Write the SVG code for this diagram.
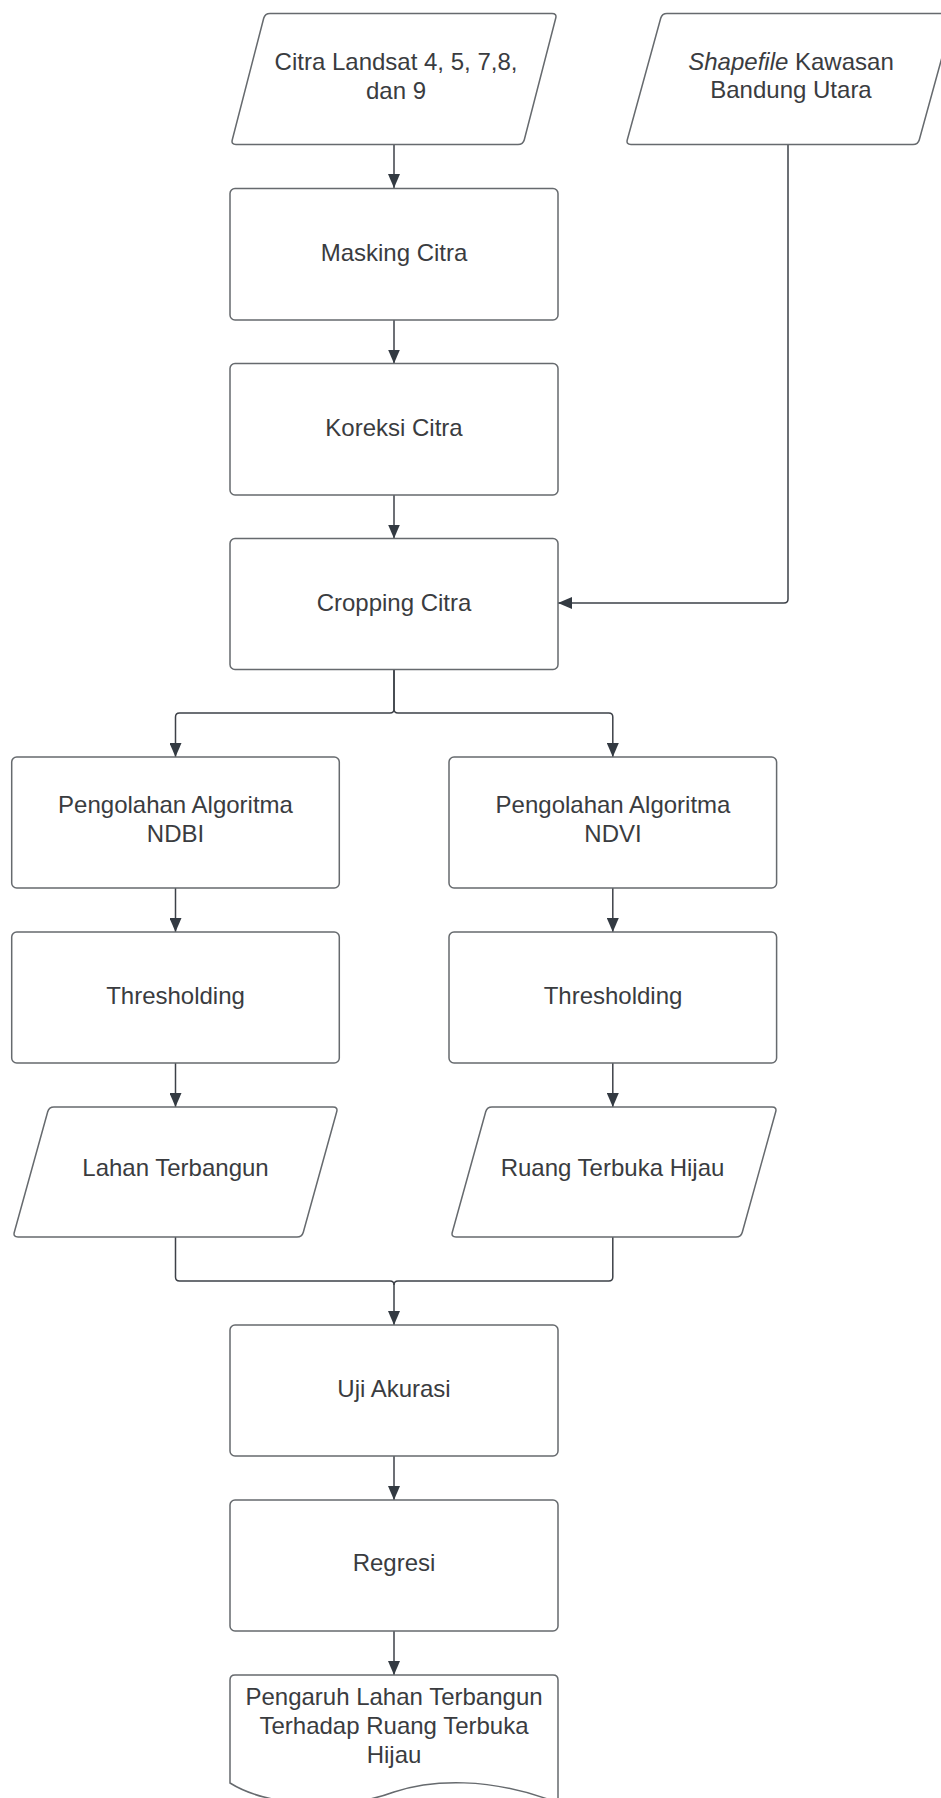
<svg xmlns="http://www.w3.org/2000/svg" width="941" height="1798" viewBox="0 0 941 1798">
<defs>
<style>
.shape{fill:#ffffff;stroke:#666a6e;stroke-width:1.5}
.lbl{font-family:"Liberation Sans",Arial,sans-serif;font-size:24px;fill:#3a3c3f;text-anchor:middle}
.conn{fill:none;stroke:#3d4148;stroke-width:1.5}
</style>
<marker id="ah" viewBox="0 0 14 12" refX="14" refY="6" markerWidth="14" markerHeight="12" markerUnits="userSpaceOnUse" orient="auto">
<path d="M0,0 L14,6 L0,12 Z" fill="#333a42"/>
</marker>
</defs>
<rect width="941" height="1798" fill="#ffffff"/>

<g id="connectors">
<path class="conn" d="M394,145 V188" marker-end="url(#ah)"/>
<path class="conn" d="M394,320 V363.5" marker-end="url(#ah)"/>
<path class="conn" d="M394,495 V538.5" marker-end="url(#ah)"/>
<path class="conn" d="M788,145 V599 Q788,603 784,603 H558" marker-end="url(#ah)"/>
<path class="conn" d="M394,669.5 V709 Q394,713 390,713 H179.5 Q175.5,713 175.5,717 V757" marker-end="url(#ah)"/>
<path class="conn" d="M394,669.5 V709 Q394,713 398,713 H608.8 Q612.8,713 612.8,717 V757" marker-end="url(#ah)"/>
<path class="conn" d="M175.5,888 V932" marker-end="url(#ah)"/>
<path class="conn" d="M612.8,888 V932" marker-end="url(#ah)"/>
<path class="conn" d="M175.5,1063 V1107" marker-end="url(#ah)"/>
<path class="conn" d="M612.8,1063 V1107" marker-end="url(#ah)"/>
<path class="conn" d="M175.5,1237 V1277 Q175.5,1281 179.5,1281 H390 Q394,1281 394,1285 V1325" marker-end="url(#ah)"/>
<path class="conn" d="M612.8,1237 V1277 Q612.8,1281 608.8,1281 H398 Q394,1281 394,1285"/>
<path class="conn" d="M394,1456 V1500" marker-end="url(#ah)"/>
<path class="conn" d="M394,1631 V1675" marker-end="url(#ah)"/>
</g>

<g id="citra-landsat">
<path class="shape" d="M270,13.5 H552 Q557,13.5 555.7,18.3 L524.3,139.7 Q523,144.5 518,144.5 H236 Q231,144.5 232.3,139.7 L263.7,18.3 Q265,13.5 270,13.5 Z"/>
<text class="lbl" x="396" y="70">Citra Landsat 4, 5, 7,8,</text>
<text class="lbl" x="396" y="98.5">dan 9</text>
</g>

<g id="shapefile">
<path class="shape" d="M667,13.5 H949 Q954,13.5 952.7,18.3 L919.3,139.7 Q918,144.5 913,144.5 H631 Q626,144.5 627.3,139.7 L660.7,18.3 Q662,13.5 667,13.5 Z"/>
<text class="lbl" x="791" y="69.5"><tspan font-style="italic">Shapefile</tspan> Kawasan</text>
<text class="lbl" x="791" y="98">Bandung Utara</text>
</g>

<g id="masking">
<rect class="shape" x="230" y="188.5" width="328" height="131.5" rx="5"/>
<text class="lbl" x="394" y="260.7">Masking Citra</text>
</g>

<g id="koreksi">
<rect class="shape" x="230" y="363.5" width="328" height="131.5" rx="5"/>
<text class="lbl" x="394" y="435.7">Koreksi Citra</text>
</g>

<g id="cropping">
<rect class="shape" x="230" y="538.5" width="328" height="131" rx="5"/>
<text class="lbl" x="394" y="610.5">Cropping Citra</text>
</g>

<g id="ndbi">
<rect class="shape" x="11.7" y="757" width="327.6" height="131" rx="5"/>
<text class="lbl" x="175.5" y="812.7">Pengolahan Algoritma</text>
<text class="lbl" x="175.5" y="841.7">NDBI</text>
</g>

<g id="ndvi">
<rect class="shape" x="449" y="757" width="327.6" height="131" rx="5"/>
<text class="lbl" x="613" y="812.7">Pengolahan Algoritma</text>
<text class="lbl" x="613" y="841.7">NDVI</text>
</g>

<g id="threshold-ndbi">
<rect class="shape" x="11.7" y="932" width="327.6" height="131" rx="5"/>
<text class="lbl" x="175.5" y="1003.5">Thresholding</text>
</g>

<g id="threshold-ndvi">
<rect class="shape" x="449" y="932" width="327.6" height="131" rx="5"/>
<text class="lbl" x="613" y="1003.5">Thresholding</text>
</g>

<g id="lahan-terbangun">
<path class="shape" d="M54,1107 H333 Q338,1107 336.7,1111.8 L303.3,1232.2 Q302,1237 297,1237 H18 Q13,1237 14.3,1232.2 L47.7,1111.8 Q49,1107 54,1107 Z"/>
<text class="lbl" x="175.5" y="1176">Lahan Terbangun</text>
</g>

<g id="ruang-terbuka-hijau">
<path class="shape" d="M492,1107 H772 Q777,1107 775.7,1111.8 L742.3,1232.2 Q741,1237 736,1237 H456 Q451,1237 452.3,1232.2 L485.7,1111.8 Q487,1107 492,1107 Z"/>
<text class="lbl" x="612.5" y="1176">Ruang Terbuka Hijau</text>
</g>

<g id="uji-akurasi">
<rect class="shape" x="230" y="1325" width="328" height="131" rx="5"/>
<text class="lbl" x="394" y="1396.7">Uji Akurasi</text>
</g>

<g id="regresi">
<rect class="shape" x="230" y="1500" width="328" height="131" rx="5"/>
<text class="lbl" x="394" y="1571">Regresi</text>
</g>

<g id="pengaruh">
<path class="shape" d="M235,1675 H553 Q558,1675 558,1680 V1803 C490,1776 430,1780 394,1792 C340,1812 265,1805 230,1783 V1680 Q230,1675 235,1675 Z"/>
<text class="lbl" x="394" y="1705">Pengaruh Lahan Terbangun</text>
<text class="lbl" x="394" y="1734">Terhadap Ruang Terbuka</text>
<text class="lbl" x="394" y="1762.7">Hijau</text>
</g>
</svg>
